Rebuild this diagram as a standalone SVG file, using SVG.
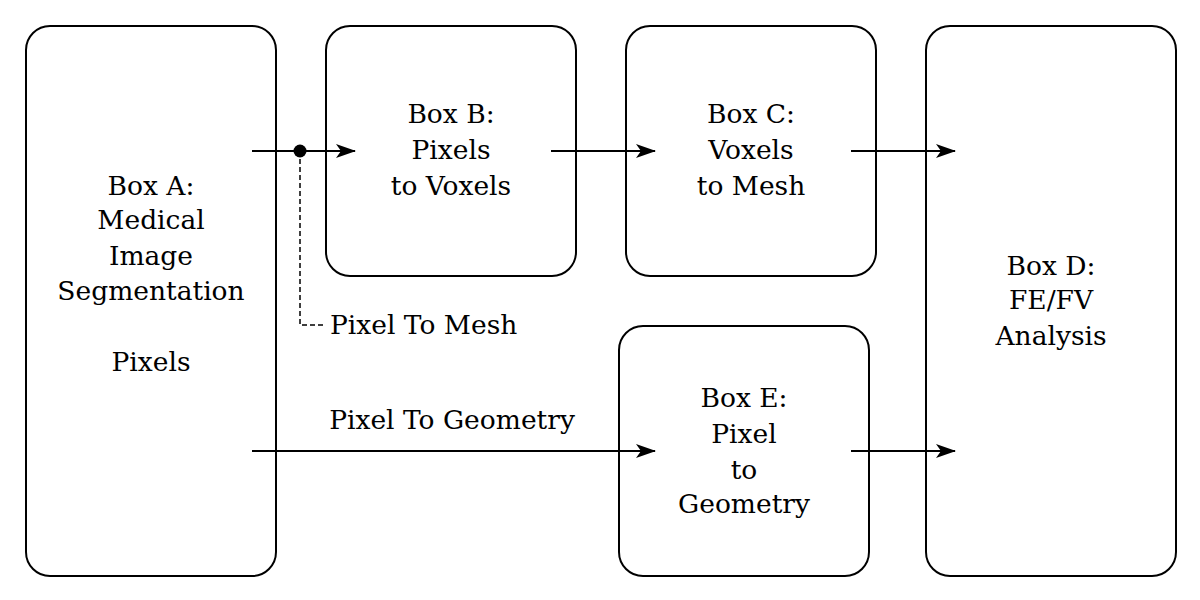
<svg xmlns="http://www.w3.org/2000/svg" width="1200" height="600" viewBox="0 0 1200 600">
<style>
.box{fill:#fff;stroke:#000;stroke-width:2}
.t{font-family:"DejaVu Serif","Liberation Serif",serif;font-size:26.5px;fill:#000;text-anchor:middle}
.l{font-family:"DejaVu Serif","Liberation Serif",serif;font-size:26.5px;fill:#000}
.c{stroke:#000;stroke-width:2;fill:none}
.d{stroke:#000;stroke-width:1.5;fill:none;stroke-dasharray:5 3}
</style>
<defs>
<marker id="arr" viewBox="0 0 20 14" refX="19" refY="7" markerWidth="20" markerHeight="14" markerUnits="userSpaceOnUse" orient="auto">
<path d="M0,0 L20,7 L0,14 L5,7 Z" fill="#000"/>
</marker>
</defs>
<g id="nodeA"><rect class="box" x="26" y="26" width="250" height="550" rx="24"/>
<text class="t" x="151" y="195">Box A:</text><text class="t" x="151" y="229">Medical</text><text class="t" x="151" y="265">Image</text><text class="t" x="151" y="300">Segmentation</text><text class="t" x="151" y="371">Pixels</text></g>
<g id="nodeB"><rect class="box" x="326" y="26" width="250" height="250" rx="24"/>
<text class="t" x="451" y="123">Box B:</text><text class="t" x="451" y="159">Pixels</text><text class="t" x="451" y="195">to Voxels</text></g>
<g id="nodeC"><rect class="box" x="626" y="26" width="250" height="250" rx="24"/>
<text class="t" x="751" y="123">Box C:</text><text class="t" x="751" y="159">Voxels</text><text class="t" x="751" y="195">to Mesh</text></g>
<g id="nodeD"><rect class="box" x="926" y="26" width="250" height="550" rx="24"/>
<text class="t" x="1051" y="275">Box D:</text><text class="t" x="1051" y="309">FE/FV</text><text class="t" x="1051" y="345">Analysis</text></g>
<g id="nodeE"><rect class="box" x="619" y="326" width="250" height="250" rx="24"/>
<text class="t" x="744" y="407">Box E:</text><text class="t" x="744" y="443">Pixel</text><text class="t" x="744" y="479">to</text><text class="t" x="744" y="513">Geometry</text></g>
<g id="connectors">
<path class="c" d="M252,151 H355" marker-end="url(#arr)"/>
<circle cx="300" cy="151" r="6.5" fill="#000"/>
<path class="d" d="M300,151 V325 H325"/>
<text class="l" x="330" y="334">Pixel To Mesh</text>
<path class="c" d="M551,151 H655" marker-end="url(#arr)"/>
<path class="c" d="M851,151 H955" marker-end="url(#arr)"/>
<path class="c" d="M252,451 H655" marker-end="url(#arr)"/>
<text class="t" x="452" y="429">Pixel To Geometry</text>
<path class="c" d="M851,451 H955" marker-end="url(#arr)"/>
</g>
</svg>
